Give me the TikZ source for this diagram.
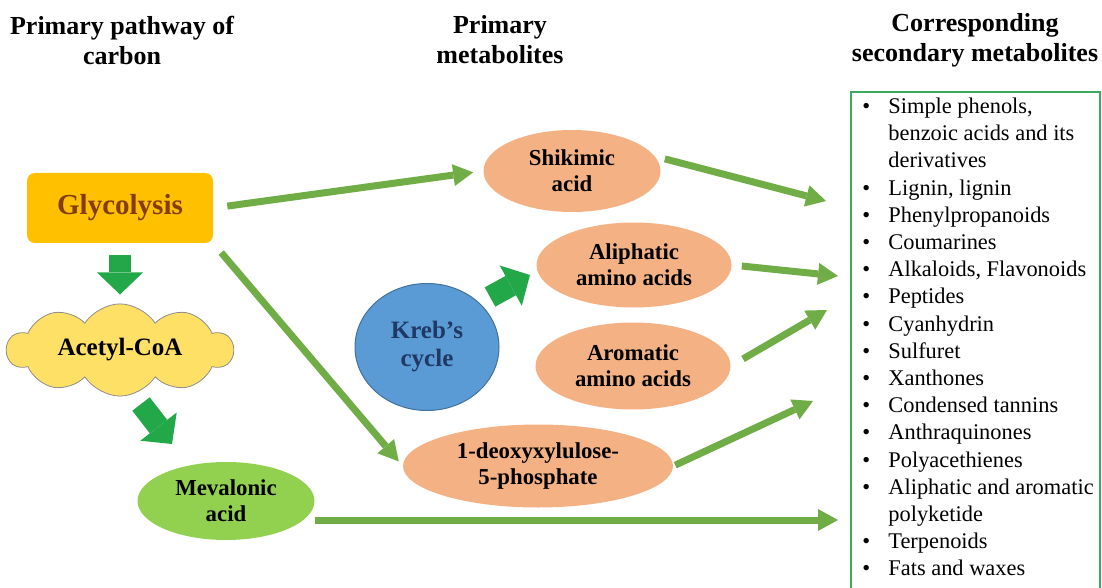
\documentclass[tikz,border=0pt]{standalone}
\usepackage{fontspec}
\setmainfont{Liberation Serif}
\usetikzlibrary{arrows.meta,positioning,calc,shapes.geometric,shapes.symbols}

\definecolor{flowgreen}{RGB}{112,173,71}
\definecolor{fatgreen}{RGB}{34,168,72}
\definecolor{peach}{RGB}{244,177,131}
\definecolor{glycofill}{RGB}{255,192,0}
\definecolor{glycotext}{RGB}{132,60,12}
\definecolor{cloudfill}{RGB}{255,224,102}
\definecolor{mevfill}{RGB}{146,208,80}
\definecolor{krebfill}{RGB}{91,155,213}
\definecolor{krebline}{RGB}{65,113,156}
\definecolor{krebtext}{RGB}{31,56,100}
\definecolor{boxgreen}{RGB}{60,170,90}

\begin{document}
\begin{tikzpicture}[x=.5pt,y=-.5pt,
 flow/.style={draw=flowgreen,line width=3.5pt,-{Triangle[length=10pt,width=11pt,line width=0pt]}},
 fatarrow/.style={draw=fatgreen,line width=11pt,-{Triangle[length=11pt,width=23pt,line width=0pt]}},
 metab/.style={ellipse,fill=peach,inner sep=0pt,align=center,font=\bfseries\fontsize{11.4}{13}\selectfont},
 heading/.style={align=center,font=\bfseries\fontsize{13}{15}\selectfont}]
\useasboundingbox (0,0) rectangle (1102,588);

% column headings
\node[heading] (hcarbon) at (122,40) {Primary pathway of\\carbon};
\node[heading] (hprim) at (500,40) {Primary\\metabolites};
\node[heading] (hsec) at (975,40) {Corresponding\\secondary metabolites};

% primary pathway of carbon
\node[rectangle,rounded corners=4pt,fill=glycofill,minimum width=93pt,minimum height=35pt,
 text=glycotext,font=\bfseries\fontsize{14.5}{16}\selectfont] (glyco) at (120,208) {Glycolysis};
\node[cloud,cloud puffs=10,cloud puff arc=115,aspect=2.7,fill=cloudfill,draw=black!45,line width=.4pt,
 minimum width=113pt,minimum height=42pt,inner sep=0pt,font=\bfseries\fontsize{12.5}{14}\selectfont] (acetyl) at (120,350) {Acetyl-CoA};
\node[metab,fill=mevfill,minimum width=88.5pt,minimum height=39pt] (meval) at (226,501) {Mevalonic\\acid};

% primary metabolites
\node[metab,minimum width=88.5pt,minimum height=41pt] (shik) at (572,171) {Shikimic\\acid};
\node[metab,minimum width=97.5pt,minimum height=42.5pt] (aliph) at (634,265) {Aliphatic\\amino acids};
\node[metab,minimum width=97.5pt,minimum height=43.5pt] (arom) at (633,366) {Aromatic\\amino acids};
\node[metab,minimum width=135pt,minimum height=41.5pt] (deoxy) at (538,466) {1-deoxyxylulose-\\5-phosphate};
\node[ellipse,fill=krebfill,draw=krebline,line width=.5pt,minimum width=72pt,minimum height=63.5pt,inner sep=0pt,
 align=center,text=krebtext,font=\bfseries\fontsize{12.5}{14}\selectfont] (kreb) at (427,347) {Kreb’s\\cycle};

% secondary metabolites
\draw[boxgreen,line width=1pt] (851,92) rectangle (1100,600);
\node[anchor=north west,inner sep=0pt,font=\fontsize{11.2}{13.6}\selectfont] (seclist) at (862,94) {%
\begin{tabular}{@{}p{13pt}@{}l@{}}
\textbullet & Simple phenols,\\
 & benzoic acids and its\\
 & derivatives\\
\textbullet & Lignin, lignin\\
\textbullet & Phenylpropanoids\\
\textbullet & Coumarines\\
\textbullet & Alkaloids, Flavonoids\\
\textbullet & Peptides\\
\textbullet & Cyanhydrin\\
\textbullet & Sulfuret\\
\textbullet & Xanthones\\
\textbullet & Condensed tannins\\
\textbullet & Anthraquinones\\
\textbullet & Polyacethienes\\
\textbullet & Aliphatic and aromatic\\
 & polyketide\\
\textbullet & Terpenoids\\
\textbullet & Fats and waxes
\end{tabular}};

% arrow ends at the list
\coordinate (t1) at (826,201);
\coordinate (t2) at (838,276);
\coordinate (t3) at (827,310);
\coordinate (t4) at (813,401);
\coordinate (t5) at (838,520);

% block arrows
\draw[fatarrow,shorten <=6pt,shorten >=4.5pt] (glyco.south) -- (acetyl.north);
\draw[fatarrow] ($(acetyl)+(21,54)$) -- ($(meval)+(-54,-57)$);
\draw[fatarrow] ($(kreb)+(63,-50)$) -- ($(aliph)+(-104,10)$);

% flow arrows
\draw[flow,shorten <=7pt,shorten >=5pt] (glyco.east) -- (shik.west);
\draw[flow,shorten <=6pt,shorten >=3pt] (glyco.south east) -- (deoxy.west);
\draw[flow,shorten <=5pt] (shik.10) -- (t1);
\draw[flow,shorten <=5pt] (aliph.east) -- (t2);
\draw[flow,shorten <=7pt] (arom.east) -- (t3);
\draw[flow,shorten <=1pt] (deoxy.east) -- (t4);
\draw[flow] (meval.east |- t5) -- (t5);
\end{tikzpicture}
\end{document}
